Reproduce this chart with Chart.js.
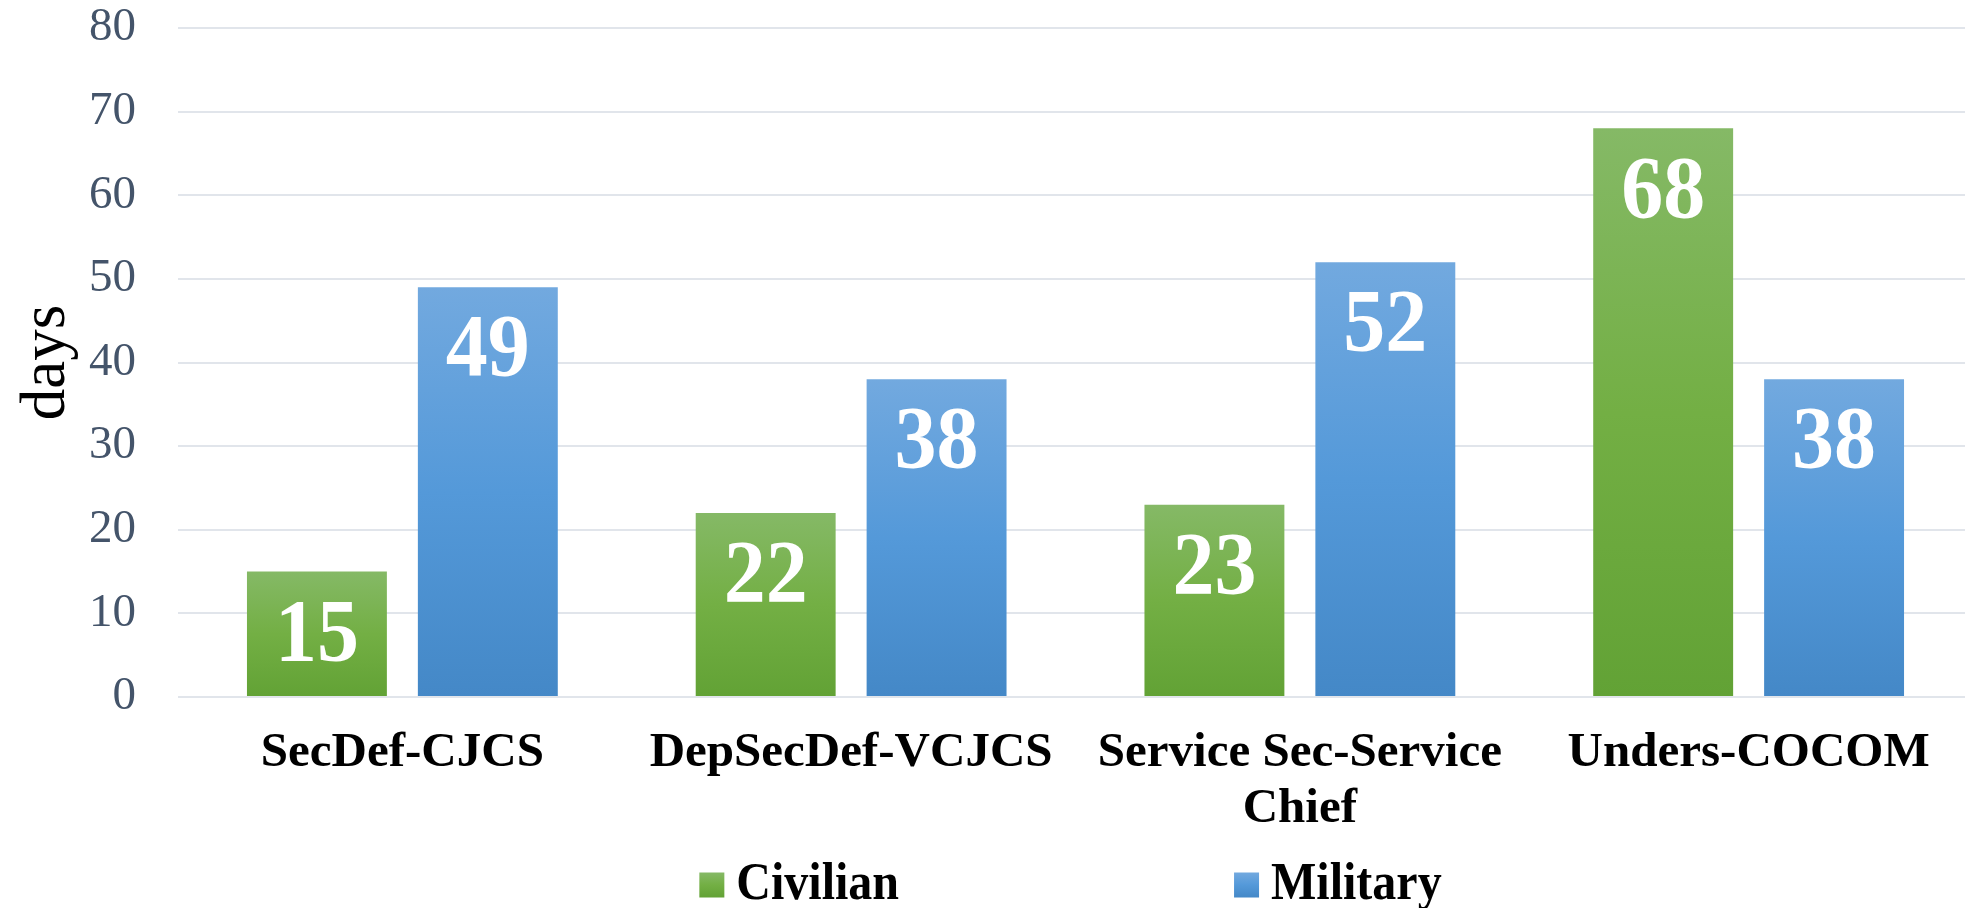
<!DOCTYPE html>
<html>
<head>
<meta charset="utf-8">
<script src="https://cdn.jsdelivr.net/npm/chart.js@4.4.1/dist/chart.umd.min.js"></script>
<style>
  html, body { margin: 0; padding: 0; background: #ffffff; overflow: hidden; }
  #wrap { width: 1973px; height: 908px; position: relative; overflow: hidden; }
</style>
</head>
<body>
<div id="wrap"><canvas id="chart"></canvas></div>
<script>
// ---- data ----
const categories = ["SecDef-CJCS", "DepSecDef-VCJCS", ["Service Sec-Service", "Chief"], "Unders-COCOM"];
const seriesNames = ["Civilian", "Military"];
const civilianDays = [15, 22, 23, 68];
const militaryDays = [49, 38, 52, 38];
const yAxisTitle = "days";
const yMin = 0;
const yMax = 80;
const yStep = 10;

// ---- styles ----
const SERIF = '"Liberation Serif", "Times New Roman", Times, serif';
const greenStops = ["#85B966", "#73AF44", "#62A235"];
const blueStops = ["#72A9DF", "#5499D9", "#4488C7"];

function barGradient(stops) {
  return function (c) {
    const chart = c.chart;
    const area = chart.chartArea;
    if (!area || c.type !== 'data' || !chart.scales.y) return stops[1];
    const y = chart.scales.y;
    const top = y.getPixelForValue(c.raw);
    const base = y.getPixelForValue(0);
    const g = chart.ctx.createLinearGradient(0, top, 0, base);
    g.addColorStop(0, stops[0]);
    g.addColorStop(0.5, stops[1]);
    g.addColorStop(1, stops[2]);
    return g;
  };
}

const valueLabels = {
  id: 'valueLabels',
  afterDatasetsDraw(chart) {
    const ctx = chart.ctx;
    chart.data.datasets.forEach((ds, di) => {
      const meta = chart.getDatasetMeta(di);
      meta.data.forEach((bar, i) => {
        ctx.save();
        ctx.translate(bar.x, bar.y + 65);
        ctx.scale(1, 1.07);
        ctx.fillStyle = '#ffffff';
        ctx.font = 'bold 84px ' + SERIF;
        ctx.textAlign = 'center';
        ctx.textBaseline = 'middle';
        ctx.fillText(String(ds.data[i]), 0, 0);
        ctx.restore();
      });
    });
  }
};

const customLegend = {
  id: 'customLegend',
  afterDraw(chart) {
    const ctx = chart.ctx;
    const area = chart.chartArea;
    const center = (area.left + area.right) / 2 - 5;
    const box = 25, gapText = 12, gapItems = 335;
    ctx.save();
    ctx.font = 'bold 48px ' + SERIF;
    const widths = chart.data.datasets.map(ds => box + gapText + ctx.measureText(ds.label).width);
    const total = widths.reduce((a, b) => a + b, 0) + gapItems * (widths.length - 1);
    let x = center - total / 2;
    const yMid = 885;
    chart.data.datasets.forEach((ds, di) => {
      const stops = di === 0 ? greenStops : blueStops;
      const g = ctx.createLinearGradient(0, yMid - box / 2, 0, yMid + box / 2);
      g.addColorStop(0, stops[0]); g.addColorStop(0.5, stops[1]); g.addColorStop(1, stops[2]);
      ctx.fillStyle = g;
      ctx.fillRect(x, yMid - box / 2, box, box);
      ctx.save();
      ctx.translate(x + box + gapText, yMid);
      ctx.scale(1, 1.1);
      ctx.fillStyle = '#000000';
      ctx.textAlign = 'left';
      ctx.textBaseline = 'middle';
      ctx.fillText(ds.label, 0, 0);
      ctx.restore();
      x += widths[di] + gapItems;
    });
    ctx.restore();
  }
};

new Chart(document.getElementById('chart'), {
  type: 'bar',
  data: {
    labels: categories,
    datasets: [
      { label: seriesNames[0], data: civilianDays, backgroundColor: barGradient(greenStops), borderWidth: 0 },
      { label: seriesNames[1], data: militaryDays, backgroundColor: barGradient(blueStops), borderWidth: 0 }
    ]
  },
  options: {
    responsive: true,
    maintainAspectRatio: false,
    animation: false,
    devicePixelRatio: 1,
    categoryPercentage: 0.7617,
    barPercentage: 0.8187,
    layout: { padding: { left: 5, right: 0, top: 28, bottom: 74 } },
    plugins: {
      legend: { display: false },
      tooltip: { enabled: false },
      title: { display: false }
    },
    scales: {
      x: {
        grid: { display: false, drawTicks: false },
        border: { display: false },
        ticks: {
          color: '#000000',
          font: { family: SERIF, size: 49, weight: 'bold', lineHeight: 1.13 },
          padding: 29,
          maxRotation: 0,
          minRotation: 0,
          autoSkip: false
        },
        afterFit(scale) {
          scale.height = 137;
          scale.paddingLeft = 0;
          scale.paddingRight = 0;
        }
      },
      y: {
        min: yMin,
        max: yMax,
        grid: { color: '#E1E5EB', lineWidth: 2, drawTicks: false },
        border: { display: false },
        ticks: {
          stepSize: yStep,
          color: '#44546A',
          font: { family: SERIF, size: 47 },
          padding: 42
        },
        title: {
          display: true,
          text: yAxisTitle,
          color: '#000000',
          font: { family: SERIF, size: 63 },
          padding: { top: 5, bottom: 0 }
        },
        afterFit(scale) {
          scale.width = 173;
          scale.paddingTop = 0;
          scale.paddingBottom = 0;
        }
      }
    }
  },
  plugins: [valueLabels, customLegend]
});
</script>
</body>
</html>
